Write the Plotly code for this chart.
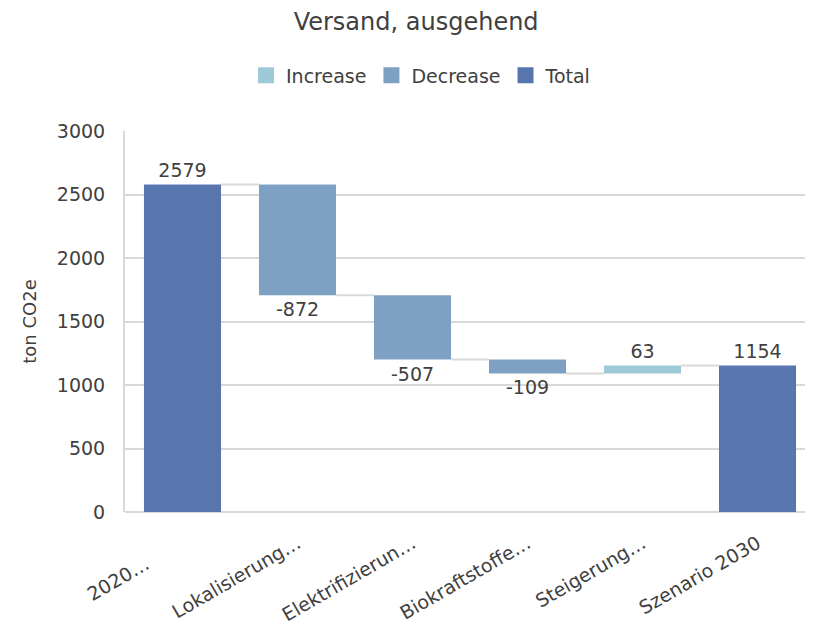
import plotly.graph_objects as go

categories = ["2020…", "Lokalisierung…", "Elektrifizierun…", "Biokraftstoffe…", "Steigerung…", "Szenario 2030"]
tick_labels = ["2020…" + "\u00a0" * 7, "Lokalisierung…", "Elektrifizierun…", "Biokraftstoffe…", "Steigerung…", "Szenario 2030"]
values = [2579, -872, -507, -109, 63, 1154]
measures = ["total", "relative", "relative", "relative", "relative", "total"]
y_ticks = [0, 500, 1000, 1500, 2000, 2500, 3000]

COL_INC = "#9DCAD6"
COL_DEC = "#7EA1C3"
COL_TOT = "#5876AD"
TXT = "#404040"
GRID = "#D9D9D9"
FONT = "DejaVu Sans"
BW = 0.67

# compute bases and levels
bases, heights, kinds, levels = [], [], [], []
level = 0
for v, m in zip(values, measures):
    if m == "total":
        bases.append(0); heights.append(v); kinds.append("Total"); level = v
    else:
        bases.append(level); heights.append(v)
        kinds.append("Increase" if v >= 0 else "Decrease")
        level = level + v
    levels.append(level)

fig = go.Figure()
for name, col in [("Increase", COL_INC), ("Decrease", COL_DEC), ("Total", COL_TOT)]:
    idx = [i for i, k in enumerate(kinds) if k == name]
    fig.add_trace(go.Bar(
        name=name,
        x=[categories[i] for i in idx],
        y=[heights[i] for i in idx],
        base=[bases[i] for i in idx],
        marker=dict(color=col, line=dict(width=0)),
        width=BW,
        text=[str(values[i]) for i in idx],
        textposition="outside",
        textfont=dict(family=FONT, size=19, color=TXT),
        cliponaxis=False,
        showlegend=False,
    ))
# legend entries (larger square swatches)
for name, col in [("Increase", COL_INC), ("Decrease", COL_DEC), ("Total", COL_TOT)]:
    fig.add_trace(go.Scatter(
        name=name, x=[categories[0]], y=[None], mode="markers",
        marker=dict(symbol="square", size=18, color=col), showlegend=True,
    ))

shapes = []
for i in range(len(categories) - 1):
    shapes.append(dict(type="line", xref="x", yref="y",
                       x0=i + BW / 2, x1=i + 1 - BW / 2,
                       y0=levels[i], y1=levels[i],
                       line=dict(color=GRID, width=2), layer="below"))

fig.update_layout(
    width=813, height=629,
    barmode="overlay",
    paper_bgcolor="white", plot_bgcolor="white",
    margin=dict(l=117, r=6, t=123, b=125),
    font=dict(family=FONT, color=TXT, size=18),
    title=dict(text="Versand, ausgehend", x=0.502, xref="container", xanchor="center",
               y=0.978, yref="container", yanchor="middle",
               font=dict(family=FONT, size=24, color=TXT)),
    legend=dict(orientation="h", x=0.508, xref="container", xanchor="center",
                y=0.893, yref="container", yanchor="middle",
                font=dict(family=FONT, size=19, color=TXT), traceorder="normal",
                itemwidth=30),
    shapes=shapes,
    xaxis=dict(type="category", categoryorder="array", categoryarray=categories,
               tickvals=categories, ticktext=tick_labels,
               range=[-0.5, 5.5], tickangle=-30, showgrid=False, showline=False,
               tickfont=dict(family=FONT, size=19, color=TXT), ticklabelstandoff=16),
    yaxis=dict(range=[0, 3000], tickvals=y_ticks, showgrid=True, gridcolor=GRID, gridwidth=2,
               showline=True, linecolor=GRID, linewidth=2, zeroline=True, zerolinecolor=GRID,
               zerolinewidth=2, tickfont=dict(family=FONT, size=19, color=TXT),
               ticklabelstandoff=14,
               title=dict(text="ton CO2e", standoff=16, font=dict(family=FONT, size=18, color=TXT))),
)

fig.write_html("out.html")
